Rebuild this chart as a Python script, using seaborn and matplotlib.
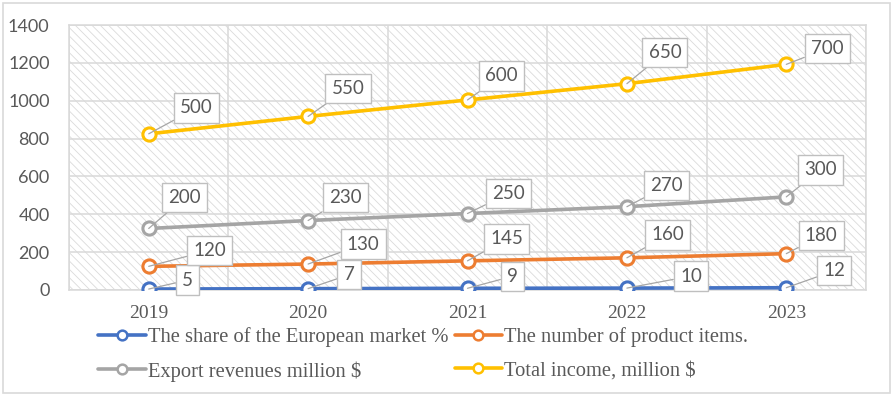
import matplotlib
matplotlib.use("Agg")
import matplotlib.pyplot as plt
from matplotlib.patches import Rectangle
from matplotlib.lines import Line2D
import numpy as np
import pandas as pd
import seaborn as sns

# ---- data -------------------------------------------------------------
years = ["2019", "2020", "2021", "2022", "2023"]
share_european_market = [5, 7, 9, 10, 12]
product_items = [120, 130, 145, 160, 180]
export_revenues = [200, 230, 250, 270, 300]
total_income = [500, 550, 600, 650, 700]

series_names = [
    "The share of the European market %",
    "The number of product items.",
    "Export revenues million $",
    "Total income, million $",
]
series_values = [share_european_market, product_items, export_revenues, total_income]
series_colors = ["#4472C4", "#ED7D31", "#A5A5A5", "#FFC000"]

# label box offsets from each point (pixels: dx right, dy up)
label_offsets = [
    [(39, 9), (41, 14), (45, 12), (64, 12), (48, 17)],
    [(61, 16), (55, 20), (39, 22), (41, 23), (35, 18)],
    [(36, 31), (37, 23), (41, 20), (40, 21), (34, 27)],
    [(48, 26), (40, 28), (34, 24), (38, 31), (41, 16)],
]

# stacked line chart: each series sits on top of the previous ones
df = pd.DataFrame(dict(zip(series_names, series_values)), index=years)
stacked = df.cumsum(axis=1)
long = (stacked.reset_index(names="year")
        .melt(id_vars="year", var_name="series", value_name="stacked"))
long["value"] = df.reset_index(names="year").melt(id_vars="year")["value"].values
long["x"] = long["year"].map({y: i for i, y in enumerate(years)})

# ---- figure -----------------------------------------------------------
sns.set_theme(style="white")
plt.rcParams["hatch.linewidth"] = 0.6
W, H, DPI = 894, 396, 100
fig = plt.figure(figsize=(W / DPI, H / DPI), dpi=DPI)
fig.patch.set_facecolor("white")
fig.patches.append(Rectangle((3 / W, 3 / H), (890 - 3) / W, (393 - 3) / H,
                             transform=fig.transFigure, fill=False,
                             edgecolor="#D9D9D9", linewidth=1.2))

ax = fig.add_axes([69 / W, 1 - 290 / H, (866 - 69) / W, (290 - 25) / H])
ax.set_facecolor("white")
ax.add_patch(Rectangle((0, 0), 1, 1, transform=ax.transAxes, facecolor="white",
                       edgecolor="#DADADA", hatch="\\\\\\\\", linewidth=0, zorder=0))

for name, color in zip(series_names, series_colors):
    sub = long[long["series"] == name]
    sns.lineplot(data=sub, x="x", y="stacked", ax=ax, color=color,
                 linewidth=2.6, marker="o", markersize=9.5,
                 markerfacecolor="white", markeredgecolor=color,
                 markeredgewidth=2.2, zorder=4, legend=False)

ax.set_xlim(-0.5, len(years) - 0.5)
ax.set_ylim(0, 1400)
ax.set_yticks(np.arange(0, 1401, 200))
ax.set_xticks(range(len(years)))
ax.set_xticklabels(years)
ax.set_xticks(np.arange(-0.5, len(years), 1.0), minor=True)
ax.grid(False)
ax.yaxis.grid(True, color="#D9D9D9", linewidth=1.1, zorder=1)
ax.xaxis.grid(True, which="minor", color="#D9D9D9", linewidth=1.1, zorder=1)
ax.set_axisbelow(True)
for s in ax.spines.values():
    s.set_color("#D9D9D9")
    s.set_linewidth(1.1)
ax.set_xlabel("")
ax.set_ylabel("")
ax.tick_params(axis="both", which="both", length=0)
ax.tick_params(axis="y", pad=14, labelsize=13, labelcolor="#595959")
ax.tick_params(axis="x", pad=10.5, labelsize=14, labelcolor="#595959")
for t in ax.get_yticklabels():
    t.set_family("Lato")
for t in ax.get_xticklabels():
    t.set_family("Liberation Serif")

# value labels in boxes with leader lines
px2pt = 72 / DPI
for si, name in enumerate(series_names):
    sub = long[long["series"] == name]
    for k, (_, row) in enumerate(sub.iterrows()):
        dx, dy = label_offsets[si][k]
        ax.annotate(f"{row['value']}", xy=(row["x"], row["stacked"]),
                    xytext=(dx * px2pt, dy * px2pt), textcoords="offset points",
                    ha="center", va="center", fontsize=13.5, color="#595959",
                    family="Lato",
                    bbox=dict(boxstyle="square,pad=0.33", fc="white",
                              ec="#BFBFBF", lw=1.0),
                    arrowprops=dict(arrowstyle="-", color="#A6A6A6", lw=0.9,
                                    shrinkA=0, shrinkB=0),
                    zorder=5)

# legend: two columns, blue/orange on the first row, gray/yellow on the second
handles = [Line2D([], [], color=c, linewidth=2.6, marker="o", markersize=7,
                  markerfacecolor="white", markeredgecolor=c, markeredgewidth=1.8)
           for c in series_colors]
order = [0, 2, 1, 3]
leg = fig.legend([handles[i] for i in order], [series_names[i] for i in order],
                 ncol=2, loc="upper left", bbox_to_anchor=(88 / W, 1 - 317 / H),
                 frameon=False, handlelength=2.3, handletextpad=0.12,
                 columnspacing=0.3, labelspacing=0.68, borderpad=0,
                 prop={"family": "Liberation Serif", "size": 14.8})
for t in leg.get_texts():
    t.set_color("#595959")

fig.savefig("out.png", dpi=DPI)
